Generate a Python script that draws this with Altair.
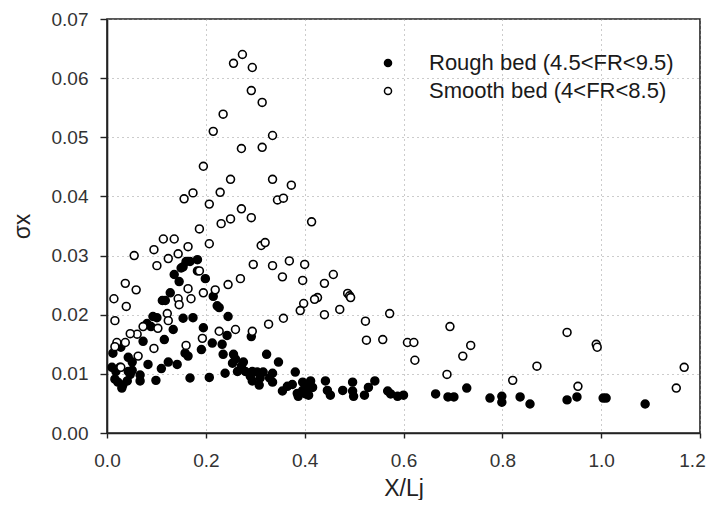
import altair as alt
import pandas as pd

ROUGH_LABEL = "Rough bed (4.5<FR<9.5)"
SMOOTH_LABEL = "Smooth bed (4<FR<8.5)"

rough_x = [0.183, 0.168, 0.160, 0.154, 0.150, 0.183, 0.136, 0.199, 0.146, 0.128,
           0.112, 0.118, 0.215, 0.223, 0.227, 0.245, 0.093, 0.101, 0.154, 0.174,
           0.081, 0.089, 0.134, 0.195, 0.116, 0.073, 0.243, 0.292, 0.213, 0.233,
           0.191, 0.012, 0.028, 0.158, 0.164, 0.235, 0.256, 0.260, 0.323, 0.043,
           0.051, 0.083, 0.124, 0.110, 0.142, 0.276, 0.272, 0.264, 0.347, 0.010,
           0.018, 0.026, 0.051, 0.067, 0.067, 0.294, 0.304, 0.316, 0.335, 0.381,
           0.016, 0.022, 0.032, 0.030, 0.041, 0.099, 0.168, 0.207, 0.239, 0.294,
           0.308, 0.335, 0.355, 0.375, 0.385, 0.043, 0.047, 0.254, 0.280, 0.290,
           0.310, 0.329, 0.365, 0.396, 0.406, 0.387, 0.408, 0.396, 0.402, 0.412,
           0.416, 0.442, 0.446, 0.452, 0.477, 0.497, 0.497, 0.499, 0.521, 0.529,
           0.542, 0.568, 0.574, 0.588, 0.600, 0.665, 0.690, 0.702, 0.728, 0.775,
           0.799, 0.799, 0.836, 0.856, 0.931, 0.951, 1.004, 1.010, 1.089]
rough_y = [0.0293, 0.0290, 0.0290, 0.0281, 0.0279, 0.0274, 0.0268, 0.0261, 0.0256, 0.0237,
           0.0224, 0.0224, 0.0231, 0.0215, 0.0212, 0.0197, 0.0197, 0.0195, 0.0194, 0.0195,
           0.0185, 0.0180, 0.0175, 0.0178, 0.0158, 0.0155, 0.0165, 0.0163, 0.0152, 0.0150,
           0.0141, 0.0135, 0.0145, 0.0135, 0.0130, 0.0133, 0.0133, 0.0125, 0.0133, 0.0128,
           0.0120, 0.0116, 0.0120, 0.0109, 0.0116, 0.0120, 0.0113, 0.0104, 0.0120, 0.0111,
           0.0104, 0.0111, 0.0106, 0.0098, 0.0088, 0.0104, 0.0103, 0.0103, 0.0101, 0.0103,
           0.0091, 0.0086, 0.0081, 0.0076, 0.0088, 0.0089, 0.0093, 0.0094, 0.0101, 0.0088,
           0.0081, 0.0086, 0.0071, 0.0082, 0.0067, 0.0104, 0.0099, 0.0118, 0.0104, 0.0096,
           0.0093, 0.0093, 0.0079, 0.0072, 0.0076, 0.0062, 0.0064, 0.0086, 0.0066, 0.0088,
           0.0077, 0.0088, 0.0072, 0.0064, 0.0072, 0.0086, 0.0071, 0.0062, 0.0064, 0.0077,
           0.0088, 0.0071, 0.0066, 0.0062, 0.0064, 0.0066, 0.0061, 0.0061, 0.0076, 0.0059,
           0.0062, 0.0052, 0.0061, 0.0049, 0.0056, 0.0061, 0.0059, 0.0059, 0.0049]

smooth_x = [0.274, 0.256, 0.294, 0.292, 0.314, 0.235, 0.215, 0.335, 0.272, 0.314,
            0.195, 0.250, 0.335, 0.373, 0.174, 0.156, 0.229, 0.207, 0.345, 0.357,
            0.272, 0.250, 0.231, 0.292, 0.414, 0.312, 0.320, 0.296, 0.335, 0.369,
            0.400, 0.355, 0.396, 0.458, 0.440, 0.270, 0.245, 0.487, 0.426, 0.398,
            0.391, 0.420, 0.440, 0.471, 0.491, 0.493, 0.523, 0.572, 0.525, 0.558,
            0.608, 0.621, 0.623, 0.694, 0.736, 0.720, 0.688, 0.821, 0.870, 0.931,
            0.990, 0.992, 0.953, 1.152, 1.168, 0.187, 0.114, 0.136, 0.095, 0.144,
            0.164, 0.055, 0.124, 0.101, 0.207, 0.187, 0.164, 0.037, 0.059, 0.014,
            0.039, 0.016, 0.144, 0.146, 0.170, 0.195, 0.219, 0.122, 0.124, 0.073,
            0.061, 0.047, 0.020, 0.037, 0.016, 0.103, 0.095, 0.063, 0.028, 0.160,
            0.193, 0.227, 0.260, 0.294, 0.327, 0.357]
smooth_y = [0.0640, 0.0625, 0.0618, 0.0579, 0.0559, 0.0539, 0.0510, 0.0503, 0.0481, 0.0483,
            0.0451, 0.0429, 0.0429, 0.0419, 0.0406, 0.0396, 0.0407, 0.0387, 0.0394, 0.0397,
            0.0379, 0.0362, 0.0354, 0.0364, 0.0357, 0.0317, 0.0322, 0.0285, 0.0283, 0.0291,
            0.0285, 0.0264, 0.0258, 0.0268, 0.0253, 0.0261, 0.0251, 0.0236, 0.0229, 0.0219,
            0.0207, 0.0226, 0.0200, 0.0209, 0.0232, 0.0229, 0.0189, 0.0202, 0.0157, 0.0158,
            0.0153, 0.0153, 0.0123, 0.0180, 0.0148, 0.0130, 0.0099, 0.0089, 0.0113, 0.0170,
            0.0150, 0.0145, 0.0079, 0.0076, 0.0111, 0.0345, 0.0328, 0.0328, 0.0310, 0.0303,
            0.0315, 0.0300, 0.0295, 0.0283, 0.0320, 0.0274, 0.0244, 0.0253, 0.0242, 0.0227,
            0.0214, 0.0190, 0.0227, 0.0217, 0.0227, 0.0237, 0.0242, 0.0202, 0.0190, 0.0180,
            0.0167, 0.0168, 0.0153, 0.0153, 0.0146, 0.0177, 0.0143, 0.0130, 0.0111, 0.0148,
            0.0160, 0.0172, 0.0175, 0.0172, 0.0184, 0.0194]

x_ticks = [0.0, 0.2, 0.4, 0.6, 0.8, 1.0, 1.2]
y_ticks = [0.00, 0.01, 0.02, 0.03, 0.04, 0.05, 0.06, 0.07]

df = pd.concat([
    pd.DataFrame({"x": rough_x, "y": rough_y, "series": ROUGH_LABEL}),
    pd.DataFrame({"x": smooth_x, "y": smooth_y, "series": SMOOTH_LABEL}),
], ignore_index=True)

FONT = "Liberation Sans"

chart = alt.Chart(df).mark_point(
    shape="circle", size=62, stroke="black", strokeWidth=1.6, opacity=1
).encode(
    x=alt.X("x:Q", title="X/Lj",
            scale=alt.Scale(domain=[0, 1.2], nice=False, zero=False),
            axis=alt.Axis(values=x_ticks, format=".1f", tickSize=5,
                          labelPadding=13, titlePadding=7,
                          labelFlush=False, labelOverlap=False,
                          labelOffset={"expr": "datum.value > 1.1 ? -8 : 0"})),
    y=alt.Y("y:Q", title="σx",
            scale=alt.Scale(domain=[0, 0.07], nice=False),
            axis=alt.Axis(values=y_ticks, format=".2f", tickSize=7,
                          labelPadding=12, titlePadding=17,
                          labelFlush=False, labelOverlap=False)),
    fill=alt.Fill("series:N",
                  scale=alt.Scale(domain=[ROUGH_LABEL, SMOOTH_LABEL],
                                  range=["black", "white"]),
                  sort=[ROUGH_LABEL, SMOOTH_LABEL],
                  legend=alt.Legend(title=None, orient="none",
                                    legendX=270, legendY=33,
                                    symbolType="circle", symbolSize=50,
                                    symbolStrokeColor="black",
                                    symbolStrokeWidth=1.5,
                                    labelFontSize=22, labelFont=FONT,
                                    labelColor="#1a1a1a", labelOffset=30,
                                    labelLimit=400,
                                    rowPadding=6, padding=0)),
    order=alt.Order("series:N", sort="ascending"),
).properties(
    width=593, height=414,
    autosize=alt.AutoSizeParams(type="none"),
    padding={"left": 99, "top": 11, "right": 6, "bottom": 67},
).configure_view(
    stroke="#222", strokeWidth=1.6
).configure_axis(
    grid=True, gridColor="#999", gridDash=[1, 4], gridWidth=1,
    domainColor="#222", domainWidth=1.6,
    tickColor="#222", tickWidth=1.4,
    labelFont=FONT, labelFontSize=19, labelColor="#333",
    titleFont=FONT, titleFontSize=23, titleColor="#222",
    titleFontWeight="normal",
)

chart.save("out.html", embed_options={"renderer": "svg", "actions": False})
